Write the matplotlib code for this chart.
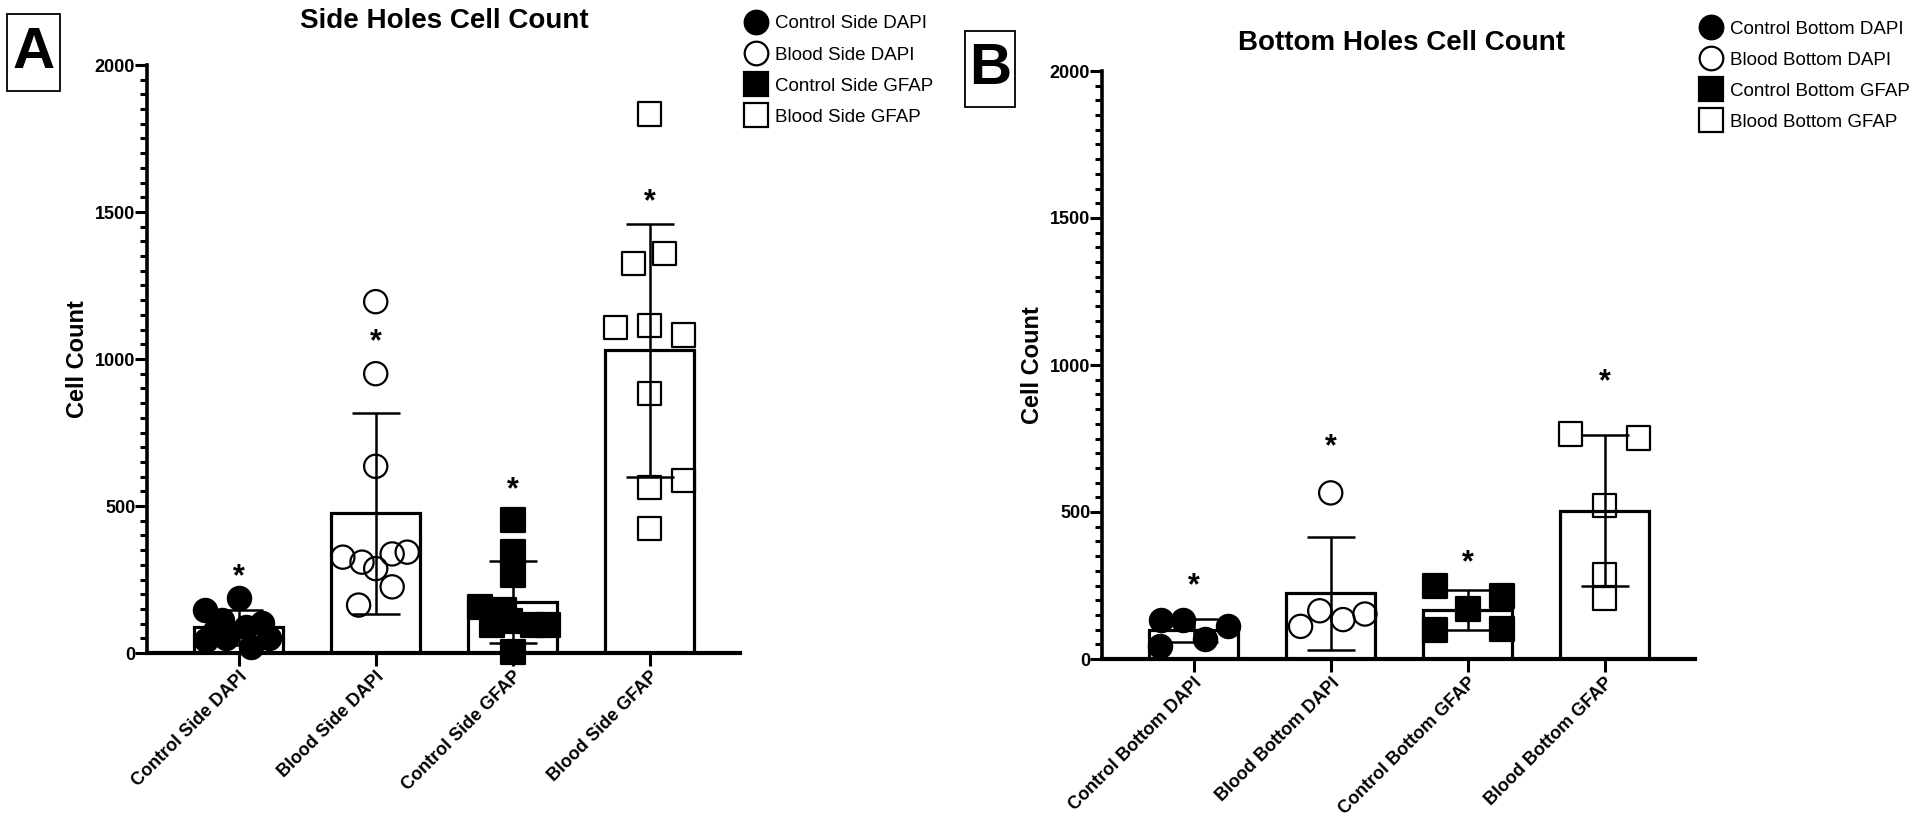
import numpy as np
import matplotlib
matplotlib.use("Agg")
import matplotlib.pyplot as plt
from matplotlib.patches import Rectangle
from matplotlib.lines import Line2D
from matplotlib.ticker import MultipleLocator

plt.rcParams['font.family'] = ['Liberation Sans', 'DejaVu Sans']

# panel A - side holes
side_groups = ['Control Side DAPI', 'Blood Side DAPI', 'Control Side GFAP', 'Blood Side GFAP']
side_means = [87, 475, 174, 1030]
side_sd = [59, 342, 139, 430]
side_stars = [258, 1058, 554, 1534]
side_ctrl_dapi = [186, 146, 112, 90, 102, 44, 50, 21, 50, 75]
side_blood_dapi = [1195, 950, 635, 326, 309, 287, 337, 343, 225, 163]
side_ctrl_gfap = [452, 345, 265, 157, 146, 95, 95, 95, 110, 5]
side_blood_gfap = [1833, 1359, 1325, 1107, 1114, 1082, 883, 562, 587, 424]

# panel B - bottom holes
bottom_groups = ['Control Bottom DAPI', 'Blood Bottom DAPI', 'Control Bottom GFAP', 'Blood Bottom GFAP']
bottom_means = [97, 224, 166, 505]
bottom_sd = [40, 192, 68, 258]
bottom_stars = [246, 719, 326, 943]
bottom_ctrl_dapi = [134, 134, 111, 68, 43]
bottom_blood_dapi = [565, 111, 164, 134, 153]
bottom_ctrl_gfap = [247, 215, 171, 97, 102]
bottom_blood_gfap = [765, 752, 522, 287, 205]

# horizontal scatter offsets (fraction of category spacing)
side_jitter = [
    [0, -0.25, -0.12, 0.05, 0.17, -0.24, -0.09, 0.09, 0.22, -0.17],
    [0, 0, 0, -0.24, -0.10, 0, 0.12, 0.23, 0.12, -0.125],
    [0, 0, 0, -0.24, -0.06, -0.15, 0.15, 0.26, -0.02, 0],
    [0, 0.11, -0.12, -0.25, 0, 0.25, 0, 0, 0.25, 0],
]
bottom_jitter = [
    [-0.24, -0.08, 0.25, 0.08, -0.25],
    [0, -0.22, -0.08, 0.09, 0.25],
    [-0.24, 0.25, 0, -0.24, 0.25],
    [-0.25, 0.25, 0, 0, 0],
]

W, H = 1920, 821
fig = plt.figure(figsize=(W / 100, H / 100), dpi=100)


def px_rect(left, top, right, bottom):
    return [left / W, 1 - bottom / H, (right - left) / W, (bottom - top) / H]


styles = [
    dict(marker='o', facecolors='black'),
    dict(marker='o', facecolors='none'),
    dict(marker='s', facecolors='black'),
    dict(marker='s', facecolors='none'),
]


def draw_panel(ax, groups, means, sd, stars, points, jitter):
    x = np.arange(1, len(groups) + 1)
    ax.bar(x, means, width=0.65, color='white', edgecolor='black', linewidth=2.3, zorder=1)
    ax.errorbar(x, means, yerr=sd, fmt='none', ecolor='black', elinewidth=1.8,
                capsize=17, capthick=1.8, zorder=2)
    for i, (vals, off) in enumerate(zip(points, jitter)):
        ax.scatter(x[i] + np.array(off), vals, s=280, edgecolors='black',
                   linewidths=1.6, zorder=3, clip_on=False, **styles[i])
    for xi, st in zip(x, stars):
        ax.text(xi, st, '*', ha='center', va='center', fontsize=22, fontweight='bold')
    ax.set_xlim(0.33, 4.66)
    ax.set_ylim(0, 2000)
    ax.spines['top'].set_visible(False)
    ax.spines['right'].set_visible(False)
    ax.spines['left'].set_linewidth(2.6)
    ax.spines['bottom'].set_linewidth(3)
    ax.yaxis.set_major_locator(MultipleLocator(500))
    ax.yaxis.set_minor_locator(MultipleLocator(50))
    ax.tick_params(axis='y', which='major', length=8.5, width=2.2, pad=0, labelsize=13)
    ax.tick_params(axis='y', which='minor', length=5, width=2.2)
    ax.tick_params(axis='x', length=9, width=2.2, labelsize=13, pad=2)
    ax.set_xticks(x)
    ax.set_xticklabels(groups, rotation=45, ha='right', rotation_mode='anchor', fontweight='bold')
    for lab in ax.get_yticklabels():
        lab.set_fontweight('bold')
    ax.set_ylabel('Cell Count', fontsize=17, fontweight='bold', labelpad=4)


def legend_handles(groups):
    hs = []
    for g, st in zip(groups, styles):
        hs.append(Line2D([], [], linestyle='none', marker=st['marker'], markersize=17,
                         markerfacecolor=st['facecolors'],
                         markeredgecolor='black', markeredgewidth=1.6, label=g))
    return hs


axA = fig.add_axes(px_rect(147, 65, 740, 653))
draw_panel(axA, side_groups, side_means, side_sd, side_stars,
           [side_ctrl_dapi, side_blood_dapi, side_ctrl_gfap, side_blood_gfap], side_jitter)
fig.text(444 / W, 1 - 21 / H, 'Side Holes Cell Count', ha='center', va='center',
         fontsize=20, fontweight='bold')

axB = fig.add_axes(px_rect(1102, 71, 1695, 659))
draw_panel(axB, bottom_groups, bottom_means, bottom_sd, bottom_stars,
           [bottom_ctrl_dapi, bottom_blood_dapi, bottom_ctrl_gfap, bottom_blood_gfap], bottom_jitter)
fig.text(1401 / W, 1 - 43 / H, 'Bottom Holes Cell Count', ha='center', va='center',
         fontsize=20, fontweight='bold')

# legends
fig.legend(handles=legend_handles(side_groups), loc='upper left',
           bbox_to_anchor=(735 / W, 1 - 6 / H), frameon=False, fontsize=13.5,
           handletextpad=0.45, labelspacing=0.75, borderpad=0, handlelength=1.2)
fig.legend(handles=legend_handles(bottom_groups), loc='upper left',
           bbox_to_anchor=(1690 / W, 1 - 11 / H), frameon=False, fontsize=13.5,
           handletextpad=0.45, labelspacing=0.75, borderpad=0, handlelength=1.2)

# panel letters
for (l, t, r, b), letter in [((7, 14, 60, 91), 'A'), ((965, 31, 1015, 107), 'B')]:
    fig.patches.append(Rectangle((l / W, 1 - b / H), (r - l) / W, (b - t) / H,
                                 transform=fig.transFigure, fill=False,
                                 edgecolor='black', linewidth=1.3))
    fig.text((l + r) / 2 / W, 1 - (t + b) / 2 / H, letter, ha='center', va='center',
             fontsize=42, fontweight='bold')

fig.savefig('out.png', dpi=100)
